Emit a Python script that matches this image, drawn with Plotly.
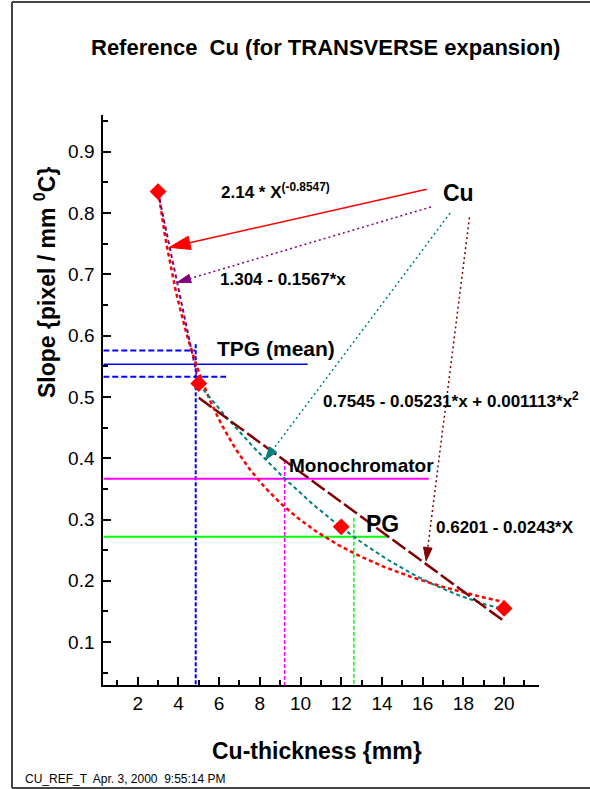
import numpy as np
import plotly.graph_objects as go

W, H = 590, 789
FONT = "Liberation Sans, Arial, sans-serif"

# Measured slope values for the Cu reference samples
thickness = [3, 5, 12, 20]
slope = [0.835, 0.522, 0.288, 0.155]

# Fit coefficients (as written in the labels)
pow_coef = [2.14, -0.8547]                 # a * x^b
lin1_coef = [1.304, -0.1567]               # first two points
quad_coef = [0.7545, -0.05231, 0.001113]   # last three points
lin2_coef = [0.6201, -0.0243]              # last three points

# Reference levels: (slope level, thickness at crossing)
tpg_mean, tpg_hi, tpg_lo = 0.5535, 0.5757, 0.5328
tpg_x = 4.85
mono_level, mono_x = 0.3664, 9.22
pg_level, pg_x = 0.2718, 12.62

# Axis ranges and ticks
x_range = [0.31, 21.73]
y_range = [0.030, 0.960]
x_ticks = [2, 4, 6, 8, 10, 12, 14, 16, 18, 20]
y_ticks = [0.1, 0.2, 0.3, 0.4, 0.5, 0.6, 0.7, 0.8, 0.9]

# Pointer arrows from the "Cu" label to each fit: (tail x, tail y, head x, head y)
arrow_pow = [16.2, 0.839, 3.55, 0.744]
arrow_lin1 = [16.41, 0.810, 3.95, 0.687]
arrow_quad = [17.35, 0.800, 8.26, 0.397]
arrow_lin2 = [18.3, 0.793, 16.17, 0.2326]

fig = go.Figure()

x0 = x_range[0]
y0 = y_range[0]


def line(xs, ys, color, width, dash="solid"):
    fig.add_trace(go.Scatter(x=xs, y=ys, mode="lines", hoverinfo="skip",
                             line=dict(color=color, width=width, dash=dash),
                             showlegend=False))


# TPG (mean) band
line([x0, 10.35], [tpg_mean, tpg_mean], "#0000FF", 1.5)
line([x0, 4.82], [tpg_hi, tpg_hi], "#0000FF", 2, "6px,3px")
line([x0, 6.34], [tpg_lo, tpg_lo], "#0000FF", 2, "6px,3px")
line([tpg_x, tpg_x], [0.586, y0], "#0000FF", 2, "4px,2px")

# Monochromator level
line([x0, 16.3], [mono_level, mono_level], "#FF00FF", 2)
line([mono_x, mono_x], [0.397, y0], "#FF00FF", 1.5, "4px,2px")

# PG level
line([x0, 14.3], [pg_level, pg_level], "#00FF00", 2)
line([pg_x, pg_x], [0.303, y0], "#00FF00", 1.5, "4px,2px")

# Fitted curves
xp = np.linspace(thickness[0], thickness[-1], 200)
line(xp, pow_coef[0] * xp ** pow_coef[1], "#FF0000", 2.5, "4px,3px")

xl1 = np.array([thickness[0], thickness[1]], dtype=float)
line(xl1, lin1_coef[0] + lin1_coef[1] * xl1, "#800080", 2, "4px,3px")

xq = np.linspace(thickness[1], thickness[-1], 200)
line(xq, quad_coef[0] + quad_coef[1] * xq + quad_coef[2] * xq ** 2,
     "#008080", 2, "4px,3px")

xl2 = np.array([thickness[1], thickness[-1]], dtype=float)
line(xl2, lin2_coef[0] + lin2_coef[1] * xl2, "#800000", 2.5, "16px,4px")

# Data points
fig.add_trace(go.Scatter(x=thickness, y=slope, mode="markers", hoverinfo="skip",
                         marker=dict(symbol="diamond", size=13, color="#FF0000",
                                     line=dict(width=0)),
                         showlegend=False))


def arrow(a, color, width, dash, size):
    fig.add_trace(go.Scatter(
        x=[a[0], a[2]], y=[a[1], a[3]], mode="lines+markers", hoverinfo="skip",
        line=dict(color=color, width=width, dash=dash),
        marker=dict(symbol="arrow", size=[0, size], angleref="previous",
                    color=color, opacity=1, line=dict(width=1, color=color)),
        opacity=1,
        showlegend=False))


arrow(arrow_pow, "#FF0000", 1.5, "solid", 22)
arrow(arrow_lin1, "#800080", 1.5, "2px,3px", 14)
arrow(arrow_quad, "#008080", 1.5, "2px,3px", 14)
arrow(arrow_lin2, "#800000", 1.5, "2px,3px", 14)


def px(x):
    return x / W


def py(y):
    return 1 - y / H


annotations = []


def text(s, x, y, size, xanchor="left", angle=0):
    annotations.append(dict(text=s, x=px(x), y=py(y), xref="paper", yref="paper",
                            xanchor=xanchor, yanchor="middle", showarrow=False,
                            textangle=angle,
                            font=dict(family=FONT, size=size, color="black")))


text("<b>Reference  Cu (for TRANSVERSE expansion)</b>", 325, 47, 22, "center")
text("<b>Slope {pixel / mm <sup>0</sup>C}</b>", 45, 283, 23, "center", -90)
text("<b>Cu-thickness {mm}</b>", 317, 751, 23, "center")
text("CU_REF_T  Apr. 3, 2000  9:55:14 PM", 23, 779, 12)

text("<b>Cu</b>", 441, 193, 23)
text("<b>2.14 * X<sup>(-0.8547)</sup></b>", 219, 191, 17)
text("<b>1.304 - 0.1567*x</b>", 218, 279, 17)
text("<b>TPG (mean)</b>", 215, 348, 21)
text("<b>0.7545 - 0.05231*x + 0.001113*x<sup>2</sup></b>", 321, 400, 17)
text("<b>Monochromator</b>", 287, 465, 19)
text("<b>PG</b>", 364, 524, 23)
text("<b>0.6201 - 0.0243*X</b>", 434, 527, 17)

# Page frame
frame = dict(type="line", xref="paper", yref="paper", line=dict(color="#444444", width=2))
shapes = [
    dict(frame, x0=px(12), x1=px(12), y0=py(2), y1=py(788)),
    dict(frame, x0=px(12), x1=1, y0=py(2), y1=py(2)),
    dict(frame, x0=px(12), x1=1, y0=py(788), y1=py(788)),
]

axis_common = dict(showgrid=False, zeroline=False, showline=True, linecolor="black",
                   linewidth=2, ticks="inside", ticklen=8, tickwidth=2,
                   tickcolor="black", mirror=False,
                   tickfont=dict(family=FONT, size=19, color="black"))

fig.update_layout(
    width=W, height=H,
    margin=dict(l=0, r=0, t=0, b=0),
    paper_bgcolor="white", plot_bgcolor="white",
    xaxis=dict(axis_common, range=x_range, domain=[103.3 / W, 539.3 / W],
               tickmode="array", tickvals=x_ticks,
               ticktext=[str(v) for v in x_ticks],
               minor=dict(ticks="inside", ticklen=5, tickwidth=1.5, tickcolor="black",
                          tickmode="linear", tick0=1, dtick=2)),
    yaxis=dict(axis_common, range=y_range, domain=[1 - 685 / H, 1 - 115 / H],
               tickmode="array", tickvals=y_ticks, ticklabelstandoff=3,
               ticktext=[f"{v:.1f}" for v in y_ticks],
               minor=dict(ticks="inside", ticklen=5, tickwidth=1.5, tickcolor="black",
                          tickmode="linear", tick0=0.05, dtick=0.1)),
    annotations=annotations,
    shapes=shapes,
)

fig.write_html("out.html")
